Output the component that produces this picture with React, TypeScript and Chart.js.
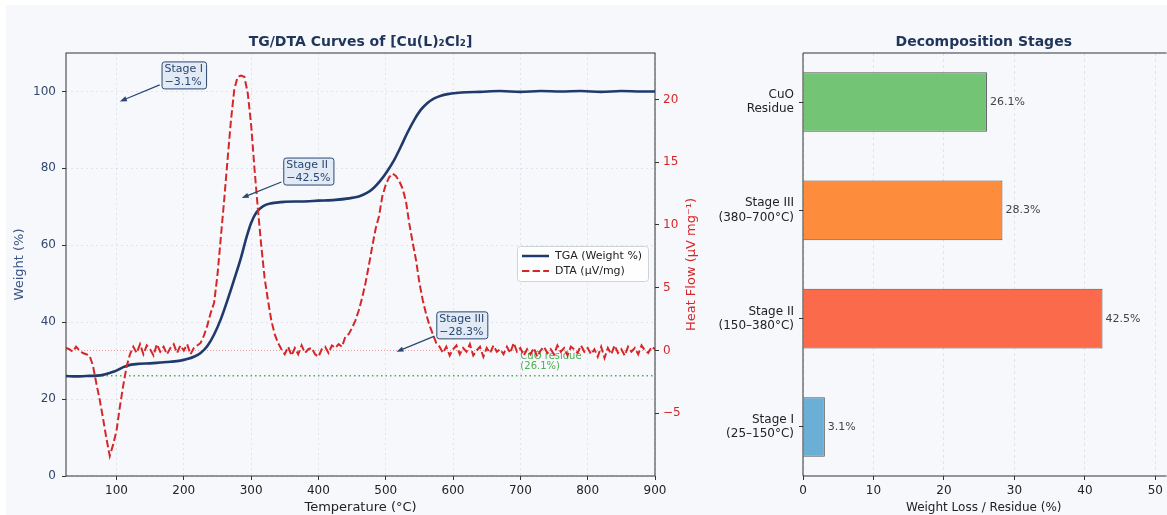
import React, { useEffect, useRef } from 'react';
import { Chart, registerables } from 'chart.js';

Chart.register(...registerables);

const FONT = "'DejaVu Sans', 'Liberation Sans', sans-serif";
const PANEL = '#f6f8fc';
const NAVY = '#1f3a6b';
const NAVY_TXT = '#33486e';
const RED = '#d62728';
const GREEN = '#4caf50';
const GRID = 'rgba(120,130,150,0.22)';

// ---------- Left chart data ----------
const DTA_START = 25;
const DTA_STEP = 5;
// DTA heat flow (µV/mg), one value every 5 °C from 25 to 900 °C
const DTA_VALUES = [
  0.2, 0.1, -0.1, 0.3, 0.0, -0.2, -0.3, -0.4, -1.2, -2.6,
  -3.9, -5.4, -7.0, -8.4, -7.5, -6.4, -4.5, -2.8, -1.3, -0.3,
  0.3, -0.2, 0.5, -0.3, 0.4, 0.1, -0.4, 0.5, -0.1, 0.3,
  -0.3, 0.2, 0.5, -0.2, 0.4, 0.0, 0.5, -0.3, 0.2, 0.4,
  0.6, 1.2, 2.0, 3.0, 3.8, 6.0, 9.0, 12.0, 15.2, 18.3,
  20.8, 21.8, 21.9, 21.8, 20.5, 18.0, 14.5, 11.3, 8.4, 5.8,
  4.0, 2.4, 1.3, 0.6, 0.1, -0.3, 0.3, -0.4, 0.2, -0.3,
  0.4, -0.2, 0.1, 0.2, -0.3, -0.5, 0.1, 0.3, -0.2, 0.4,
  0.2, 0.5, 0.3, 1.1, 1.3, 1.8, 2.4, 3.2, 4.2, 5.4,
  6.8, 8.3, 9.7, 10.7, 12.3, 13.2, 13.8, 14.1, 13.9, 13.5,
  12.9, 11.9, 10.1, 8.6, 7.2, 5.4, 4.0, 2.9, 2.0, 1.3,
  0.6, 0.3, -0.2, 0.3, -0.4, 0.1, 0.4, -0.3, 0.2, -0.1,
  0.5, -0.4, 0.0, 0.3, -0.5, 0.2, -0.2, 0.4, -0.1, 0.1,
  -0.3, 0.3, -0.2, 0.6, -0.1, 0.2, -0.4, 0.1, -0.3, 0.2,
  -0.5, 0.0, 0.3, -0.2, 0.1, -0.3, 0.4, -0.1, 0.2, -0.4,
  0.3, 0.1, -0.2, 0.4, -0.1, 0.2, -0.3, 0.1, -0.5, 0.3,
  -0.6, 0.2, -0.3, 0.4, -0.2, 0.1, -0.4, 0.3, -0.1, 0.2,
  -0.3, 0.4, 0.0, -0.2, 0.3, 0.1,
];

const TGA_TEMPS = [
  25, 40, 55, 70, 80, 90, 100, 110, 120, 135, 150, 165, 180, 195, 205, 215, 225,
  235, 245, 255, 265, 275, 285, 293, 300, 308, 318, 330, 350, 375, 400, 425, 445,
  460, 472, 482, 492, 502, 512, 522, 532, 542, 552, 562, 572, 582, 592, 605, 620,
  640, 670, 700, 730, 760, 790, 820, 850, 880, 900,
];
const TGA_WEIGHTS = [
  26.0, 25.9, 26.0, 26.1, 26.3, 26.8, 27.4, 28.3, 28.9, 29.2, 29.3, 29.5, 29.7, 30.0, 30.4, 31.0, 32.0,
  33.8, 36.8, 40.8, 45.8, 51.2, 56.8, 62.0, 65.8, 68.6, 70.2, 70.9, 71.3, 71.4, 71.6, 71.8, 72.2,
  72.7, 73.6, 74.9, 76.8, 79.2, 82.0, 85.5, 89.2, 92.5, 95.2, 97.0, 98.2, 98.9, 99.3, 99.6, 99.8,
  99.9, 100.1, 99.9, 100.1, 100.0, 100.1, 99.9, 100.1, 100.0, 100.0,
];

const X_TICKS = [100, 200, 300, 400, 500, 600, 700, 800, 900];
const WEIGHT_TICKS = [0, 20, 40, 60, 80, 100];
const HEAT_TICKS = [-5, 0, 5, 10, 15, 20];

const RESIDUE_WEIGHT = 26.1;
const RESIDUE_LABEL = ['CuO residue', '(26.1%)'];
const RESIDUE_LABEL_AT = [700, 27.1];

const STAGE_NOTES = [
  ['Stage I', '−3.1%'],
  ['Stage II', '−42.5%'],
  ['Stage III', '−28.3%'],
];
const NOTE_TEXT_TEMP = [200, 385, 613];
const NOTE_TEXT_WEIGHT = [104.3, 79.3, 39.3];
const NOTE_TARGET_TEMP = [105, 286, 516];
const NOTE_TARGET_WEIGHT = [97.4, 72.3, 32.3];

// ---------- Right chart data ----------
const BAR_CATEGORIES = [
  ['Stage I', '(25–150°C)'],
  ['Stage II', '(150–380°C)'],
  ['Stage III', '(380–700°C)'],
  ['CuO', 'Residue'],
];
const BAR_VALUES = [3.1, 42.5, 28.3, 26.1];
const BAR_COLORS = ['#6baed6', '#fb6a4a', '#fd8d3c', '#74c476'];
const BAR_X_TICKS = [0, 10, 20, 30, 40, 50];

const fmtMinus = (v: number) => (v < 0 ? '−' + Math.abs(v) : String(v));

function drawText(
  ctx: CanvasRenderingContext2D,
  s: string,
  x: number,
  y: number,
  font: string,
  color: string,
  align: CanvasTextAlign = 'center',
  baseline: CanvasTextBaseline = 'middle',
  rotate = 0
) {
  ctx.save();
  ctx.font = font;
  ctx.fillStyle = color;
  ctx.textAlign = align;
  ctx.textBaseline = baseline;
  ctx.translate(x, y);
  if (rotate) ctx.rotate(rotate);
  ctx.fillText(s, 0, 0);
  ctx.restore();
}

function roundRect(ctx: CanvasRenderingContext2D, x: number, y: number, w: number, h: number, r: number) {
  ctx.beginPath();
  ctx.moveTo(x + r, y);
  ctx.lineTo(x + w - r, y);
  ctx.quadraticCurveTo(x + w, y, x + w, y + r);
  ctx.lineTo(x + w, y + h - r);
  ctx.quadraticCurveTo(x + w, y + h, x + w - r, y + h);
  ctx.lineTo(x + r, y + h);
  ctx.quadraticCurveTo(x, y + h, x, y + h - r);
  ctx.lineTo(x, y + r);
  ctx.quadraticCurveTo(x, y, x + r, y);
  ctx.closePath();
}

function drawNote(ctx: CanvasRenderingContext2D, lines: string[], cx: number, cy: number, tx: number, ty: number) {
  ctx.save();
  ctx.font = `11px ${FONT}`;
  const lh = 13;
  const w = Math.max(...lines.map((l) => ctx.measureText(l).width)) + 6;
  const h = lines.length * lh + 1;
  const bx = cx - w / 2;
  const by = cy - h / 2;
  const dx = tx - cx;
  const dy = ty - cy;
  const len = Math.hypot(dx, dy);
  const ux = dx / len;
  const uy = dy / len;
  const t = Math.min(Math.abs(dx) > 0 ? w / 2 / Math.abs(dx) : 1e9, Math.abs(dy) > 0 ? h / 2 / Math.abs(dy) : 1e9);
  const sx = cx + dx * t + ux * 2;
  const sy = cy + dy * t + uy * 2;
  const headL = 7;
  const headW = 2.6;
  ctx.strokeStyle = '#2c4770';
  ctx.fillStyle = '#2c4770';
  ctx.lineWidth = 1.2;
  ctx.beginPath();
  ctx.moveTo(sx, sy);
  ctx.lineTo(tx - ux * headL * 0.8, ty - uy * headL * 0.8);
  ctx.stroke();
  ctx.beginPath();
  ctx.moveTo(tx, ty);
  ctx.lineTo(tx - ux * headL - uy * headW, ty - uy * headL + ux * headW);
  ctx.lineTo(tx - ux * headL + uy * headW, ty - uy * headL - ux * headW);
  ctx.closePath();
  ctx.fill();
  roundRect(ctx, bx + 0.5, by + 0.5, w, h, 2.5);
  ctx.fillStyle = '#e2eaf6';
  ctx.fill();
  ctx.lineWidth = 1;
  ctx.strokeStyle = '#2c4770';
  ctx.stroke();
  ctx.fillStyle = '#2c4770';
  ctx.textAlign = 'left';
  ctx.textBaseline = 'middle';
  lines.forEach((l, i) => ctx.fillText(l, bx + 3, by + lh / 2 + 1 + i * lh));
  ctx.restore();
}

const leftDecor = {
  id: 'leftDecor',
  beforeDatasetsDraw(chart: any) {
    const { ctx, chartArea: a, scales } = chart;
    const { x, y, y1 } = scales;
    ctx.save();
    const z = y1.getPixelForValue(0);
    ctx.strokeStyle = 'rgba(214,39,40,0.55)';
    ctx.lineWidth = 0.8;
    ctx.setLineDash([1, 2]);
    ctx.beginPath();
    ctx.moveTo(a.left, z);
    ctx.lineTo(a.right, z);
    ctx.stroke();
    const r = y.getPixelForValue(RESIDUE_WEIGHT);
    ctx.strokeStyle = GREEN;
    ctx.lineWidth = 1.5;
    ctx.setLineDash([1.5, 3]);
    ctx.beginPath();
    ctx.moveTo(a.left, r);
    ctx.lineTo(a.right, r);
    ctx.stroke();
    ctx.setLineDash([]);
    const lx = x.getPixelForValue(RESIDUE_LABEL_AT[0]);
    const ly = y.getPixelForValue(RESIDUE_LABEL_AT[1]);
    drawText(ctx, RESIDUE_LABEL[1], lx, ly, `10px ${FONT}`, GREEN, 'left', 'bottom');
    drawText(ctx, RESIDUE_LABEL[0], lx, ly - 10, `10px ${FONT}`, GREEN, 'left', 'bottom');
    ctx.restore();
  },
  afterDatasetsDraw(chart: any) {
    const { ctx, chartArea: a, scales } = chart;
    const { x, y } = scales;
    ctx.save();
    ctx.strokeStyle = '#333';
    ctx.lineWidth = 1;
    ctx.strokeRect(a.left, a.top, a.right - a.left, a.bottom - a.top);
    STAGE_NOTES.forEach((lines, i) => {
      drawNote(
        ctx,
        lines,
        x.getPixelForValue(NOTE_TEXT_TEMP[i]),
        y.getPixelForValue(NOTE_TEXT_WEIGHT[i]),
        x.getPixelForValue(NOTE_TARGET_TEMP[i]),
        y.getPixelForValue(NOTE_TARGET_WEIGHT[i])
      );
    });
    const lgX = a.right - 138;
    const lgY = a.top + 193;
    roundRect(ctx, lgX + 0.5, lgY + 0.5, 131, 35, 3);
    ctx.fillStyle = 'rgba(255,255,255,0.85)';
    ctx.fill();
    ctx.strokeStyle = '#cfd3da';
    ctx.lineWidth = 1;
    ctx.stroke();
    ctx.lineWidth = 2.5;
    ctx.strokeStyle = NAVY;
    ctx.beginPath();
    ctx.moveTo(lgX + 5, lgY + 10);
    ctx.lineTo(lgX + 32, lgY + 10);
    ctx.stroke();
    ctx.lineWidth = 2;
    ctx.strokeStyle = RED;
    ctx.setLineDash([7.4, 3.2]);
    ctx.beginPath();
    ctx.moveTo(lgX + 5, lgY + 25);
    ctx.lineTo(lgX + 32, lgY + 25);
    ctx.stroke();
    ctx.setLineDash([]);
    drawText(ctx, 'TGA (Weight %)', lgX + 38, lgY + 10, `11px ${FONT}`, '#222', 'left');
    drawText(ctx, 'DTA (µV/mg)', lgX + 38, lgY + 25, `11px ${FONT}`, '#222', 'left');
    ctx.restore();
  },
  afterDraw(chart: any) {
    const { ctx, chartArea: a } = chart;
    const mid = (a.left + a.right) / 2;
    const vmid = (a.top + a.bottom) / 2;
    drawText(ctx, 'TG/DTA Curves of [Cu(L)₂Cl₂]', mid, 42, `bold 14px ${FONT}`, '#1f3559');
    drawText(ctx, 'Temperature (°C)', mid, 508, `13px ${FONT}`, '#222');
    drawText(ctx, 'Weight (%)', 20, vmid, `13px ${FONT}`, '#3b5486', 'center', 'middle', -Math.PI / 2);
    drawText(ctx, 'Heat Flow (μV mg⁻¹)', 692, vmid, `13px ${FONT}`, RED, 'center', 'middle', -Math.PI / 2);
  },
};

const rightDecor = {
  id: 'rightDecor',
  afterDatasetsDraw(chart: any) {
    const { ctx, chartArea: a } = chart;
    ctx.save();
    ctx.strokeStyle = '#333';
    ctx.lineWidth = 1;
    ctx.beginPath();
    ctx.moveTo(a.right + 2, a.top);
    ctx.lineTo(a.left, a.top);
    ctx.lineTo(a.left, a.bottom);
    ctx.lineTo(a.right + 2, a.bottom);
    ctx.stroke();
    const meta = chart.getDatasetMeta(0);
    meta.data.forEach((bar: any, i: number) => {
      drawText(ctx, BAR_VALUES[i].toFixed(1) + '%', bar.x + 3, bar.y, `11px ${FONT}`, '#444', 'left');
    });
    ctx.restore();
  },
  afterDraw(chart: any) {
    const { ctx, chartArea: a } = chart;
    const mid = (a.left + a.right) / 2;
    drawText(ctx, 'Decomposition Stages', mid, 42, `bold 14px ${FONT}`, '#1f3559');
    drawText(ctx, 'Weight Loss / Residue (%)', mid, 508, `12px ${FONT}`, '#222');
  },
};

const tickFont = { family: FONT, size: 12 };

export default function App() {
  const leftRef = useRef<HTMLCanvasElement>(null);
  const rightRef = useRef<HTMLCanvasElement>(null);

  useEffect(() => {
    const dtaPoints = DTA_VALUES.map((v, i) => ({ x: DTA_START + i * DTA_STEP, y: v }));
    const tgaPoints = TGA_TEMPS.map((t, i) => ({ x: t, y: TGA_WEIGHTS[i] }));

    const left = new Chart(leftRef.current as HTMLCanvasElement, {
      type: 'line',
      data: {
        datasets: [
          {
            label: 'DTA (µV/mg)',
            data: dtaPoints,
            yAxisID: 'y1',
            borderColor: RED,
            borderWidth: 2,
            borderDash: [7.4, 3.2],
            pointRadius: 0,
            tension: 0,
            fill: false,
          },
          {
            label: 'TGA (Weight %)',
            data: tgaPoints,
            yAxisID: 'y',
            borderColor: NAVY,
            borderWidth: 2.6,
            pointRadius: 0,
            cubicInterpolationMode: 'monotone',
            fill: false,
          },
        ],
      },
      options: {
        responsive: false,
        animation: false,
        layout: { padding: { top: 53, left: 0, right: 0, bottom: 0 } },
        plugins: { legend: { display: false }, tooltip: { enabled: false }, title: { display: false } },
        scales: {
          x: {
            type: 'linear',
            min: 25,
            max: 900,
            afterBuildTicks: (s: any) => {
              s.ticks = X_TICKS.map((v) => ({ value: v }));
            },
            afterFit: (s: any) => {
              s.height = 39;
            },
            ticks: { color: '#222', font: tickFont, padding: 4, maxRotation: 0, autoSkip: false },
            grid: { color: GRID, lineWidth: 0.8, tickColor: '#333', tickLength: 4, tickWidth: 1 },
            border: { display: false, dash: [2, 3] },
          },
          y: {
            type: 'linear',
            position: 'left',
            min: 0,
            max: 110,
            afterBuildTicks: (s: any) => {
              s.ticks = WEIGHT_TICKS.map((v) => ({ value: v }));
            },
            afterFit: (s: any) => {
              s.width = 66;
            },
            ticks: { color: NAVY_TXT, font: tickFont, padding: 6, autoSkip: false },
            grid: { color: GRID, lineWidth: 0.8, tickColor: '#333', tickLength: 4, tickWidth: 1 },
            border: { display: false, dash: [2, 3] },
          },
          y1: {
            type: 'linear',
            position: 'right',
            min: -10,
            max: 23.7,
            afterBuildTicks: (s: any) => {
              s.ticks = HEAT_TICKS.map((v) => ({ value: v }));
            },
            afterFit: (s: any) => {
              s.width = 50;
            },
            ticks: { color: RED, font: tickFont, padding: 4, autoSkip: false, callback: (v: any) => fmtMinus(Number(v)) },
            grid: { drawOnChartArea: false, tickColor: '#333', tickLength: 4, tickWidth: 1 },
            border: { display: false },
          },
        },
      },
      plugins: [leftDecor],
    } as any);

    const right = new Chart(rightRef.current as HTMLCanvasElement, {
      type: 'bar',
      data: {
        datasets: [
          {
            data: BAR_VALUES.map((v, i) => ({ x: v, y: i })),
            backgroundColor: BAR_COLORS,
            borderColor: '#555',
            borderWidth: 1,
            barPercentage: 0.55,
            categoryPercentage: 1,
          },
        ],
      },
      options: {
        indexAxis: 'y',
        responsive: false,
        animation: false,
        layout: { padding: { top: 53, left: 0, right: 0, bottom: 0 } },
        plugins: { legend: { display: false }, tooltip: { enabled: false }, title: { display: false } },
        scales: {
          x: {
            type: 'linear',
            min: 0,
            max: 51.3,
            offset: false,
            afterBuildTicks: (s: any) => {
              s.ticks = BAR_X_TICKS.map((v) => ({ value: v }));
            },
            afterFit: (s: any) => {
              s.height = 39;
            },
            ticks: { color: '#222', font: tickFont, padding: 4, maxRotation: 0, autoSkip: false },
            grid: { offset: false, color: GRID, lineWidth: 0.8, tickColor: '#333', tickLength: 4, tickWidth: 1 },
            border: { display: false, dash: [3, 3] },
          },
          y: {
            type: 'linear',
            min: -0.4525,
            max: 3.4525,
            offset: false,
            afterBuildTicks: (s: any) => {
              s.ticks = BAR_CATEGORIES.map((_, i) => ({ value: i }));
            },
            afterFit: (s: any) => {
              s.width = 98;
            },
            ticks: {
              color: '#222',
              font: tickFont,
              padding: 5,
              autoSkip: false,
              callback: (v: any) => BAR_CATEGORIES[Math.round(Number(v))] || '',
            },
            grid: { offset: false, drawOnChartArea: false, tickColor: '#333', tickLength: 4, tickWidth: 1 },
            border: { display: false },
          },
        },
      },
      plugins: [rightDecor],
    } as any);

    return () => {
      left.destroy();
      right.destroy();
    };
  }, []);

  return (
    <div style={{ position: 'absolute', left: 0, top: 0, width: 1167, height: 515, background: '#ffffff', overflow: 'hidden' }}>
      <div style={{ position: 'absolute', left: 6, top: 5, width: 1161, height: 510, background: PANEL }} />
      <canvas ref={leftRef} width={705} height={515} style={{ position: 'absolute', left: 0, top: 0 }} />
      <canvas ref={rightRef} width={462} height={515} style={{ position: 'absolute', left: 705, top: 0 }} />
    </div>
  );
}
